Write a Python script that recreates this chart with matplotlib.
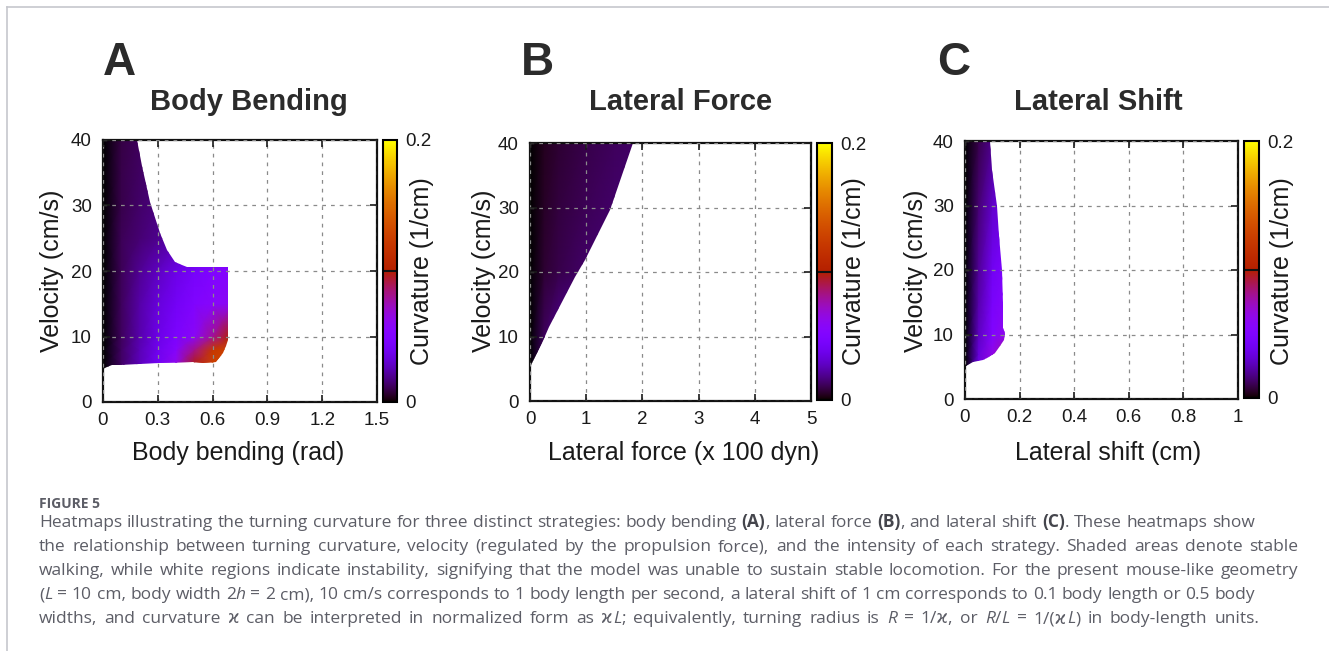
import numpy as np
import matplotlib.pyplot as plt
from matplotlib.patches import Polygon
from matplotlib.lines import Line2D

plt.rcParams['font.family'] = ['Liberation Sans', 'DejaVu Sans']

W, H = 1329, 651

# --- panel A: body bending ---
a_bend = [0, 0.1, 0.2, 0.3, 0.4, 0.5, 0.6, 0.7]
a_vel = [4, 6, 8, 10, 15, 20, 25, 30, 35, 40]
a_curv = [
    [0.000, 0.013, 0.026, 0.042, 0.064, 0.100, 0.128, 0.135],
    [0.000, 0.013, 0.026, 0.041, 0.062, 0.096, 0.125, 0.132],
    [0.000, 0.013, 0.025, 0.039, 0.054, 0.082, 0.120, 0.128],
    [0.000, 0.012, 0.024, 0.036, 0.047, 0.058, 0.080, 0.100],
    [0.000, 0.012, 0.023, 0.033, 0.042, 0.050, 0.056, 0.060],
    [0.000, 0.011, 0.020, 0.028, 0.036, 0.044, 0.050, 0.054],
    [0.000, 0.011, 0.015, 0.019, 0.024, 0.030, 0.036, 0.040],
    [0.000, 0.010, 0.014, 0.017, 0.021, 0.026, 0.031, 0.035],
    [0.000, 0.010, 0.013, 0.016, 0.019, 0.023, 0.028, 0.032],
    [0.000, 0.009, 0.012, 0.015, 0.018, 0.021, 0.025, 0.029],
]
a_edge_x = [0, 0.186, 0.213, 0.26, 0.31, 0.35, 0.394, 0.43, 0.458, 0.683,
            0.683, 0.675, 0.657, 0.62, 0.55, 0.49, 0.3, 0.093, 0.05, 0.02, 0]
a_edge_v = [40, 40, 36, 30.5, 25.8, 23.2, 21.4, 20.9, 20.6, 20.6,
            9.5, 8.6, 7.5, 6.15, 6.0, 6.1, 6.0, 5.7, 5.6, 5.4, 5.0]

# --- panel B: lateral force ---
b_force = [0, 0.25, 0.5, 1.0, 1.5, 2.0]
b_vel = [5, 10, 20, 30, 40]
b_curv = [
    [0.000, 0.014, 0.022, 0.030, 0.035, 0.040],
    [0.000, 0.012, 0.018, 0.025, 0.030, 0.034],
    [0.000, 0.007, 0.010, 0.014, 0.017, 0.019],
    [0.000, 0.005, 0.008, 0.011, 0.014, 0.016],
    [0.000, 0.004, 0.007, 0.010, 0.012, 0.014],
]
b_edge_x = [0, 1.84, 1.43, 0.98, 0.8, 0.33, 0.21, 0.01, 0]
b_edge_v = [40, 40, 29.6, 21.9, 19.3, 11.5, 9.0, 5.6, 5.3]

# --- panel C: lateral shift ---
c_shift = [0, 0.05, 0.1, 0.15]
c_vel = [5, 7, 10, 15, 20, 30, 40]
c_curv = [
    [0.000, 0.036, 0.072, 0.092],
    [0.000, 0.033, 0.064, 0.082],
    [0.000, 0.028, 0.051, 0.063],
    [0.000, 0.024, 0.045, 0.055],
    [0.000, 0.021, 0.040, 0.050],
    [0.000, 0.015, 0.029, 0.038],
    [0.000, 0.010, 0.019, 0.026],
]
c_edge_x = [0, 0.092, 0.098, 0.116, 0.126, 0.134, 0.138, 0.14, 0.147, 0.144,
            0.128, 0.11, 0.08, 0.067, 0.03, 0.004, 0]
c_edge_v = [40, 40, 35.5, 30, 25.2, 20, 14.8, 11, 10.2, 9.2,
            8.2, 7.1, 6.3, 6.1, 5.8, 5.15, 5.0]

vel_ticks = [0, 10, 20, 30, 40]
cbar_ticks = [0, 0.2]
cbar_labels = ['0', '0.2']

panels = [
    dict(letter='A', title='Body Bending', xlabel='Body bending (rad)',
         x=a_bend, v=a_vel, c=a_curv, ex=a_edge_x, ev=a_edge_v,
         xlim=1.5, xticks=[0, 0.3, 0.6, 0.9, 1.2, 1.5],
         xticklabels=['0', '0.3', '0.6', '0.9', '1.2', '1.5'],
         ax_px=(103, 140, 377, 402), cb_px=(383, 140, 397, 402),
         letter_xy=(103, 75), title_xy=(249, 110), ylab_x=52, cblab_x=422, xlab_xy=(238, 453)),
    dict(letter='B', title='Lateral Force', xlabel='Lateral force (x 100 dyn)',
         x=b_force, v=b_vel, c=b_curv, ex=b_edge_x, ev=b_edge_v,
         xlim=5, xticks=[0, 1, 2, 3, 4, 5],
         xticklabels=['0', '1', '2', '3', '4', '5'],
         ax_px=(530, 143, 811, 401), cb_px=(817, 143, 832, 400),
         letter_xy=(521, 75), title_xy=(681, 110), ylab_x=484, cblab_x=854, xlab_xy=(684, 453)),
    dict(letter='C', title='Lateral Shift', xlabel='Lateral shift (cm)',
         x=c_shift, v=c_vel, c=c_curv, ex=c_edge_x, ev=c_edge_v,
         xlim=1, xticks=[0, 0.2, 0.4, 0.6, 0.8, 1],
         xticklabels=['0', '0.2', '0.4', '0.6', '0.8', '1'],
         ax_px=(965, 141, 1238, 399), cb_px=(1244, 141, 1259, 398),
         letter_xy=(937, 75), title_xy=(1098, 110), ylab_x=916, cblab_x=1282, xlab_xy=(1108, 453)),
]

fig = plt.figure(figsize=(W / 100, H / 100), dpi=100)


def px_axes(x0, y0, x1, y1):
    return fig.add_axes([x0 / W, 1 - y1 / H, (x1 - x0) / W, (y1 - y0) / H])


txt_col = '#2b2b2b'
for p in panels:
    ax = px_axes(*p['ax_px'])
    mesh = ax.pcolormesh(p['x'], p['v'], np.array(p['c']), shading='gouraud',
                         cmap='gnuplot', vmin=0, vmax=0.2)
    clip = Polygon(np.column_stack([p['ex'], p['ev']]), closed=True,
                   transform=ax.transData, facecolor='none', edgecolor='none')
    mesh.set_clip_path(clip)
    ax.set_xlim(0, p['xlim'])
    ax.set_ylim(0, 40)
    ax.set_xticks(p['xticks'])
    ax.set_xticklabels(p['xticklabels'])
    ax.set_yticks(vel_ticks)
    ax.set_yticklabels([str(t) for t in vel_ticks])
    ax.grid(True, color='#8a8a8a', lw=0.9, linestyle=(0, (3, 4)))
    ax.set_axisbelow(False)
    ax.tick_params(direction='in', length=5, width=1.2, top=True, right=True,
                   labelsize=13.5, colors='#1a1a1a', pad=8)
    ax.tick_params(axis='x', pad=7)
    for s in ax.spines.values():
        s.set_linewidth(1.6)
        s.set_color('#111111')

    cax = px_axes(*p['cb_px'])
    cb = fig.colorbar(mesh, cax=cax, ticks=cbar_ticks)
    cb.ax.set_yticklabels(cbar_labels)
    cb.outline.set_linewidth(1.5)
    cax.tick_params(length=0, pad=6, labelsize=13.5, colors='#1a1a1a')
    cax.axhline(0.1, color='#111111', lw=1.5)

    lx, ly = p['letter_xy']
    fig.text(lx / W, 1 - ly / H, p['letter'], fontsize=33, fontweight='bold',
             color=txt_col, ha='left', va='baseline')
    tx, ty = p['title_xy']
    fig.text(tx / W, 1 - ty / H, p['title'], fontsize=21, fontweight='bold',
             color=txt_col, ha='center', va='baseline')
    fig.text(p['ylab_x'] / W, 1 - 271 / H, 'Velocity (cm/s)', fontsize=18,
             rotation=90, ha='center', va='center', color='#1a1a1a')
    fig.text(p['cblab_x'] / W, 1 - 271 / H, 'Curvature (1/cm)', fontsize=18,
             rotation=90, ha='center', va='center', color='#1a1a1a')
    xx, xy = p['xlab_xy']
    fig.text(xx / W, 1 - xy / H, p['xlabel'], fontsize=18,
             ha='center', va='center', color='#1a1a1a')

# frame lines of the figure box
border = '#c6c7cd'
fig.add_artist(Line2D([7 / W, 1], [1 - 7 / H, 1 - 7 / H], color=border, lw=1.2))
fig.add_artist(Line2D([7 / W, 7 / W], [0, 1 - 7 / H], color=border, lw=1.2))

# caption
cap_col = '#5c5d66'
cap_font = ['Open Sans', 'DejaVu Sans']
fig.text(39 / W, 1 - 508 / H, 'FIGURE 5', fontsize=10, fontweight='bold',
         family=cap_font, color=cap_col, ha='left', va='baseline')

caption_lines = [
    "Heatmaps illustrating the turning curvature for three distinct strategies: body bending **(A)**, lateral force **(B)**, and lateral shift **(C)**. These heatmaps show",
    "the relationship between turning curvature, velocity (regulated by the propulsion force), and the intensity of each strategy. Shaded areas denote stable",
    "walking, while white regions indicate instability, signifying that the model was unable to sustain stable locomotion. For the present mouse-like geometry",
    "(_L_ = 10 cm, body width 2_h_ = 2 cm), 10 cm/s corresponds to 1 body length per second, a lateral shift of 1 cm corresponds to 0.1 body length or 0.5 body",
    "widths, and curvature ϰ can be interpreted in normalized form as ϰ_L_; equivalently, turning radius is _R_ = 1/ϰ, or _R_/_L_ = 1/(ϰ_L_) in body-length units.",
]
caption_right = [1255, 1298, 1298, 1255, 1259]
caption_base = [527, 551, 575, 599, 623]


def parse(line):
    words, cur, buf = [], [], ''
    bold = ital = False
    i = 0
    while i < len(line):
        if line.startswith('**', i) or line[i] in '_ ':
            if buf:
                cur.append((buf, bold, ital))
                buf = ''
            if line.startswith('**', i):
                bold = not bold
                i += 2
                continue
            if line[i] == '_':
                ital = not ital
            elif cur:
                words.append(cur)
                cur = []
            i += 1
            continue
        buf += line[i]
        i += 1
    if buf:
        cur.append((buf, bold, ital))
    if cur:
        words.append(cur)
    return words


renderer = fig.canvas.get_renderer()


def make_words(line, base, size):
    placed, total = [], 0
    for w in parse(line):
        parts = []
        for s, b, it in w:
            t = fig.text(0, 1 - base / H, s, fontsize=size, family=cap_font,
                         fontweight='bold' if b else 'normal',
                         fontstyle='italic' if it else 'normal',
                         color='#44454c' if b else cap_col, ha='left', va='baseline')
            wd = t.get_window_extent(renderer).width
            parts.append((t, wd))
            total += wd
        placed.append(parts)
    return placed, total


# pick a single size so that the tightest line fits with ordinary spaces
probe = fig.text(0, 0, 'a b', fontsize=10, family=cap_font)
space10 = probe.get_window_extent(renderer).width - \
    fig.text(0, 0, 'ab', fontsize=10, family=cap_font).get_window_extent(renderer).width
ratios = []
for line, right in zip(caption_lines, caption_right):
    placed, total = make_words(line, 0, 10)
    natural = total + space10 * (len(placed) - 1)
    ratios.append((right - 39) / natural)
    for parts in placed:
        for t, wd in parts:
            t.remove()
for t in fig.texts[-2:]:
    t.remove()
cap_size = min(10 * min(ratios), 12.5)

for line, right, base in zip(caption_lines, caption_right, caption_base):
    placed, total = make_words(line, base, cap_size)
    gap = (right - 39 - total) / (len(placed) - 1)
    x = 39
    for parts in placed:
        for t, wd in parts:
            t.set_x(x / W)
            x += wd
        x += gap

fig.savefig('out.png', dpi=100)
